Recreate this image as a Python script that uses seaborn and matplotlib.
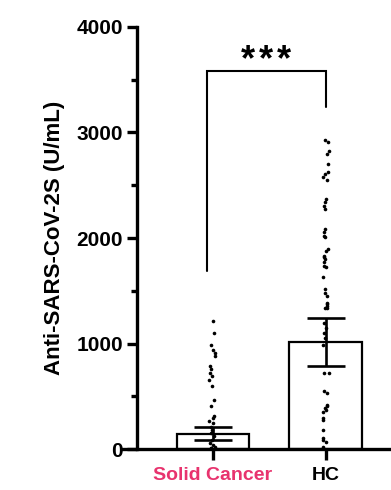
import numpy as np
import pandas as pd
import matplotlib
matplotlib.use("Agg")
import matplotlib.pyplot as plt
import seaborn as sns

# ---- data ----
groups = ["Solid Cancer", "HC"]
bar_means = [145, 1015]
bar_errors = [62, 225]

solid_cancer = [1210, 1100, 990, 940, 910, 880, 790, 755, 720, 690, 655, 600,
                465, 410, 310, 290, 270, 245, 210, 180, 150, 120, 90, 60, 40,
                20, 10, 5]
hc = [2927, 2911, 2822, 2800, 2705, 2626, 2610, 2578, 2546, 2371, 2340, 2308,
      2276, 2086, 2054, 2022, 2007, 1895, 1879, 1831, 1816, 1800, 1768, 1736,
      1721, 1626, 1514, 1483, 1450, 1388, 1371, 1355, 1340, 1340, 1197, 1150,
      1102, 1054, 990, 721, 721, 546, 530, 419, 403, 387, 371, 355, 292, 276,
      181, 102, 86, 70, 20]
sig_stars = ["*", "*", "*"]
bracket_y = [1690, 3580, 3580, 3240]
y_ticks = [0, 1000, 2000, 3000, 4000]
ylabel = "Anti-SARS-CoV-2S (U/mL)"

# ---- figure ----
sns.set_theme(style="ticks")
plt.rcParams["font.family"] = ["Liberation Sans", "DejaVu Sans"]
plt.rcParams["font.weight"] = "bold"
plt.rcParams["text.color"] = "black"
plt.rcParams["axes.labelcolor"] = "black"
plt.rcParams["xtick.color"] = "black"
plt.rcParams["ytick.color"] = "black"

fig = plt.figure(figsize=(3.91, 4.90), dpi=100)
ax = fig.add_axes([137 / 391, 41 / 490, 1 - 137 / 391, (449 - 27) / 490])

bars_df = pd.DataFrame({"group": groups, "mean": bar_means})
sns.barplot(data=bars_df, x="group", y="mean", order=groups, errorbar=None,
            color="white", edgecolor="black", linewidth=1.6, width=0.64,
            ax=ax, zorder=2)
ax.errorbar(x=[0, 1], y=bar_means, yerr=bar_errors, fmt="none",
            ecolor="black", elinewidth=1.9, capsize=13.5, capthick=1.9,
            zorder=3)

pts = pd.DataFrame({
    "group": ["Solid Cancer"] * len(solid_cancer) + ["HC"] * len(hc),
    "value": solid_cancer + hc,
})
np.random.seed(3)
sns.stripplot(data=pts, x="group", y="value", order=groups, color="black",
              size=2.6, jitter=0.03, ax=ax, zorder=4)

# significance bracket
ax.plot([-0.05, -0.05, 1.0, 1.0], bracket_y, color="black", lw=1.5,
         solid_joinstyle="miter", clip_on=False)
for i, s in enumerate(sig_stars):
    ax.text(0.31 + 0.16 * i, 3685, s, ha="center", va="center", fontsize=26,
            fontweight="bold", color="black")

ax.set_xlim(-0.67, 1.58)
ax.set_ylim(0, 4000)
ax.set_yticks(y_ticks)
ax.set_yticks(np.arange(500, 4000, 1000), minor=True)
ax.set_xlabel("")
ax.set_ylabel(ylabel, fontsize=16, fontweight="bold", labelpad=8)

for s in ["top", "right"]:
    ax.spines[s].set_visible(False)
for s in ["left", "bottom"]:
    ax.spines[s].set_linewidth(2.4)
    ax.spines[s].set_color("black")
ax.spines["bottom"].set_bounds(-0.795, 1.58)

ax.tick_params(axis="y", which="major", length=7, width=2.4, labelsize=15,
               pad=3, color="black")
ax.tick_params(axis="y", which="minor", length=4, width=2.4, color="black")
ax.tick_params(axis="x", which="major", length=8, width=2.4, labelsize=14,
               pad=5, color="black")
for lab in ax.get_yticklabels():
    lab.set_fontweight("bold")
xl = ax.get_xticklabels()
for lab in xl:
    lab.set_fontweight("bold")
xl[0].set_color("#E8336E")

fig.savefig("out.png", dpi=100, facecolor="white")
